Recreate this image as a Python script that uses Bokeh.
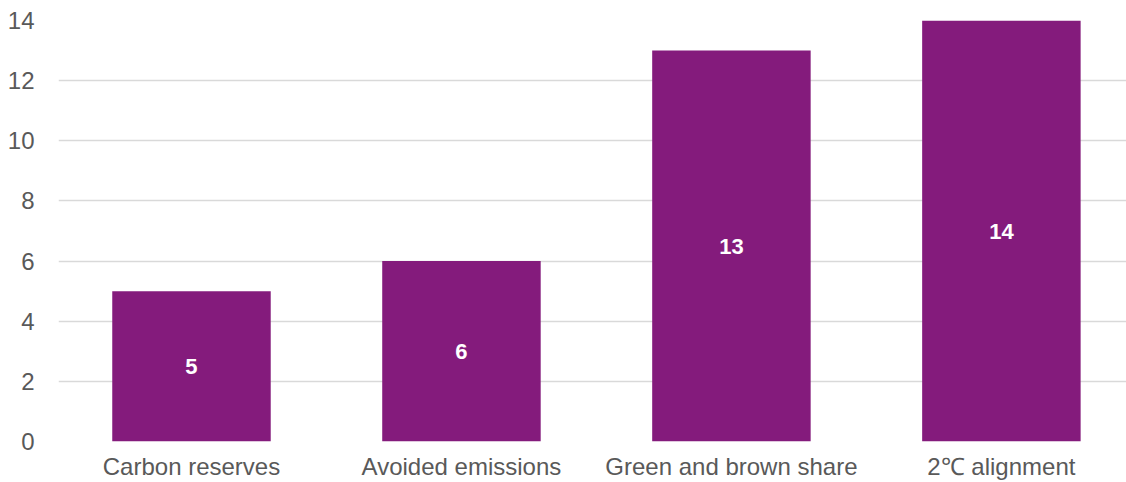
from bokeh.plotting import figure
from bokeh.models import ColumnDataSource, Range1d, FixedTicker, LabelSet
from bokeh.core.properties import value
from bokeh.embed import file_html
from bokeh.resources import INLINE

# Number of approaches per category
categories = ["Carbon reserves", "Avoided emissions", "Green and brown share", "2\u2103 alignment"]
counts = [5, 6, 13, 14]
y_ticks = [0, 2, 4, 6, 8, 10, 12, 14]

xs = list(range(len(categories)))
source = ColumnDataSource(dict(
    x=xs,
    top=counts,
    mid=[c / 2 for c in counts],
    label=[str(c) for c in counts],
))

p = figure(
    width=1126, height=482,
    output_backend="svg", toolbar_location=None,
    x_range=Range1d(-0.4926, 3.4634), y_range=Range1d(0, 14),
    min_border_left=58, min_border_right=0, min_border_top=20, min_border_bottom=41,
)
p.outline_line_color = None
p.background_fill_color = "white"
p.border_fill_color = "white"

p.vbar(x="x", top="top", width=0.587, bottom=0, source=source,
       fill_color="#841B7C", line_color=None)

# Value labels inside the bars
labels = LabelSet(x="x", y="mid", text="label", source=source,
                  text_align="center", text_baseline="middle",
                  text_color="white", text_font=value("Liberation Sans"),
                  text_font_size="22px", text_font_style="bold")
p.add_layout(labels)

# Axes
p.xaxis.ticker = FixedTicker(ticks=xs)
p.xaxis.major_label_overrides = {i: c for i, c in enumerate(categories)}
p.yaxis.ticker = FixedTicker(ticks=y_ticks)
for ax in (p.xaxis[0], p.yaxis[0]):
    ax.axis_line_color = None
    ax.major_tick_line_color = None
    ax.minor_tick_line_color = None
    ax.major_tick_out = 0
    ax.major_tick_in = 0
    ax.minor_tick_out = 0
    ax.minor_tick_in = 0
    ax.major_label_text_font = "Liberation Sans"
    ax.major_label_text_font_size = "24px"
    ax.major_label_text_color = "#595959"
p.xaxis.major_label_standoff = 11
p.yaxis.major_label_standoff = 24

p.xgrid.grid_line_color = None
p.ygrid.grid_line_color = "#D9D9D9"
p.ygrid.grid_line_width = 1.5
p.ygrid.ticker = FixedTicker(ticks=y_ticks)

open("out.html", "w").write(file_html(p, INLINE))
